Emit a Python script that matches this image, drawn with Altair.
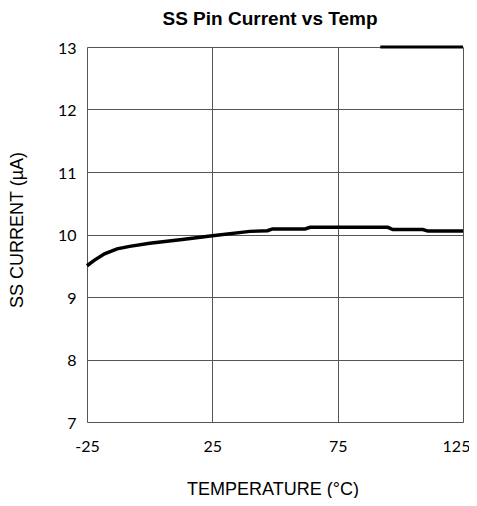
import altair as alt
import pandas as pd

# Data
temp = [-25, -22, -18, -13, -8, 0, 13, 25, 40, 47, 49, 62, 64, 95, 97, 109, 111, 125]
current = [9.50, 9.59, 9.69, 9.77, 9.81, 9.86, 9.92, 9.98, 10.05, 10.06, 10.09, 10.09,
           10.115, 10.115, 10.08, 10.08, 10.055, 10.055]
top_temp = [92, 125]
top_current = [13, 13]

x_ticks = [-25, 25, 75, 125]
y_ticks = [7, 8, 9, 10, 11, 12, 13]

df = pd.DataFrame({"temp": temp, "current": current})
df_top = pd.DataFrame({"temp": top_temp, "current": top_current})

x_enc = alt.X(
    "temp:Q",
    scale=alt.Scale(domain=[-25, 125], nice=False, zero=False),
    axis=alt.Axis(
        values=x_ticks, title="TEMPERATURE (°C)", domain=False, ticks=False, tickSize=0,
        grid=True, gridColor="#555555", gridWidth=1,
        labelFont="Lato", labelFontSize=16, labelColor="black", labelPadding=16,
        labelFlush=False, labelOverlap=False, labelExpr="'' + datum.value",
        labelOffset={"condition": {"test": "datum.value == 125", "value": -7}, "value": 0},
        titleFont="Liberation Sans", titleFontSize=18, titleFontWeight="normal",
        titleColor="black", titleX=185.5, titleY=72, titleAlign="center",
        titleBaseline="alphabetic",
    ),
)
y_enc = alt.Y(
    "current:Q",
    scale=alt.Scale(domain=[7, 13], nice=False, zero=False),
    axis=alt.Axis(
        values=y_ticks, title="SS CURRENT (µA)", domain=False, ticks=False, tickSize=0,
        grid=True, gridColor="#555555", gridWidth=1,
        labelFont="Lato", labelFontSize=16, labelColor="black", labelPadding=11,
        labelFlush=False, labelOverlap=False, labelOffset=1,
        titleFont="Liberation Sans", titleFontSize=18, titleFontWeight="normal",
        titleColor="black", titleX=-69.5, titleY=182.5, titleAngle=270,
        titleAlign="center", titleBaseline="middle",
    ),
)

main = alt.Chart(df).mark_line(color="black", strokeWidth=3.5, clip=False).encode(x=x_enc, y=y_enc)
top = alt.Chart(df_top).mark_line(color="black", strokeWidth=3, clip=False).encode(x=x_enc, y=y_enc)

chart = (
    alt.layer(main, top)
    .properties(
        width=376,
        height=375,
        autosize=alt.AutoSizeParams(type="none"),
        padding={"left": 79, "top": 39, "right": 6, "bottom": 76},
        title=alt.Title(
            "SS Pin Current vs Temp", font="Liberation Sans", fontSize=19,
            fontWeight="bold", color="black", anchor="middle", frame="group",
            offset=11, dx=-5,
        ),
    )
    .configure_view(stroke="black", strokeWidth=1.5)
    .configure(background="white")
)

chart.save("out.html", embed_options={"renderer": "svg", "actions": False})
